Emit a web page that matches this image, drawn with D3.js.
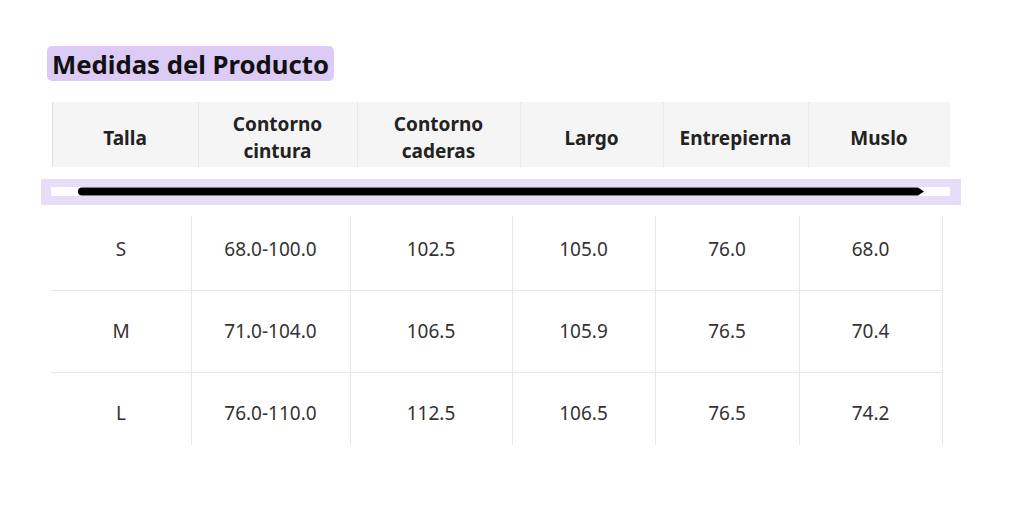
<!DOCTYPE html>
<html>
<head>
<meta charset="utf-8">
<script src="https://cdn.jsdelivr.net/npm/d3@7"></script>
<style>
  html, body { margin: 0; padding: 0; background: #fff; }
  svg { display: block; font-family: "Noto Sans", "Open Sans", sans-serif; }
</style>
</head>
<body>
<svg id="chart" width="1013" height="523"></svg>
<script>
const title = "Medidas del Producto";
const headers = [["Talla"], ["Contorno", "cintura"], ["Contorno", "caderas"], ["Largo"], ["Entrepierna"], ["Muslo"]];
const sizes = ["S", "M", "L"];
const cintura = ["68.0-100.0", "71.0-104.0", "76.0-110.0"];
const caderas = ["102.5", "106.5", "112.5"];
const largo = ["105.0", "105.9", "106.5"];
const entrepierna = ["76.0", "76.5", "76.5"];
const muslo = ["68.0", "70.4", "74.2"];

const svg = d3.select("#chart");

// column widths: header table and body table are separate, body slightly scrolled
const headWeights = [146, 159, 163, 143, 145, 142];
const bodyWeights = [140, 159, 162, 143, 144, 143];
const headEdges = [0].concat(Array.from(d3.cumsum(headWeights)));
const bodyEdges = [0].concat(Array.from(d3.cumsum(bodyWeights)));
const xHead = d3.scaleLinear().domain([0, d3.sum(headWeights)]).range([52, 950]);
const xBody = d3.scaleLinear().domain([0, d3.sum(bodyWeights)]).range([51, 942]);

// title badge
const tg = svg.append("g");
const tt = tg.append("text")
  .attr("x", 52).attr("y", 74)
  .style("font-size", "25.7px").style("font-weight", "bold").style("fill", "#111")
  .text(title);
const bb = tt.node().getBBox();
tg.insert("rect", "text")
  .attr("x", 47).attr("y", 46)
  .attr("width", bb.width + 10).attr("height", 35)
  .attr("rx", 5).attr("fill", "#dccbf5");

// header
const head = svg.append("g");
head.append("rect")
  .attr("x", xHead.range()[0]).attr("y", 102)
  .attr("width", xHead.range()[1] - xHead.range()[0]).attr("height", 65)
  .attr("fill", "#f5f5f5");
head.selectAll("line.sep")
  .data(headEdges.slice(0, -1))
  .join("line")
  .attr("class", "sep")
  .attr("x1", d => xHead(d) + 0.5).attr("x2", d => xHead(d) + 0.5)
  .attr("y1", 102).attr("y2", 167)
  .attr("stroke", d => d === 0 ? "#dddddd" : "#e8e8e8");
head.selectAll("text")
  .data(headers)
  .join("text")
  .attr("x", (d, i) => (xHead(headEdges[i]) + xHead(headEdges[i + 1])) / 2)
  .attr("y", d => d.length === 1 ? 145 : 131)
  .attr("text-anchor", "middle")
  .style("font-size", "19px").style("font-weight", "bold").style("fill", "#222")
  .selectAll("tspan")
  .data(d => d)
  .join("tspan")
  .attr("x", function () { return this.parentNode.getAttribute("x"); })
  .attr("dy", (d, i) => i === 0 ? 0 : 27)
  .text(d => d);

// scrollbar band
const sb = svg.append("g");
sb.append("rect").attr("x", 41).attr("y", 179).attr("width", 920).attr("height", 26).attr("fill", "#e6ddf8");
sb.append("rect").attr("x", 51).attr("y", 187).attr("width", 899).attr("height", 9).attr("fill", "#fff");
sb.append("path")
  .attr("d", "M82,187.5 L918,187.5 L924,191.5 L918,195.5 L82,195.5 A4,4 0 0 1 82,187.5 Z")
  .attr("fill", "#000");

// body (rows of equal height, visible area clipped)
const rowData = sizes.map((s, i) => [s, cintura[i], caderas[i], largo[i], entrepierna[i], muslo[i]]);
const y = d3.scaleBand().domain(sizes).range([208, 454]);
const clipTop = 216, clipBottom = 445;

const bodyG = svg.append("g");
bodyG.selectAll("line.h")
  .data(sizes.slice(1))
  .join("line")
  .attr("class", "h")
  .attr("x1", xBody.range()[0]).attr("x2", xBody.range()[1])
  .attr("y1", d => y(d) + 0.5).attr("y2", d => y(d) + 0.5)
  .attr("stroke", "#e8e8e8");
bodyG.selectAll("line.v")
  .data(bodyEdges.slice(1))
  .join("line")
  .attr("class", "v")
  .attr("x1", d => xBody(d) + 0.5).attr("x2", d => xBody(d) + 0.5)
  .attr("y1", clipTop).attr("y2", clipBottom)
  .attr("stroke", "#e8e8e8");

const rows = bodyG.selectAll("g.row")
  .data(rowData)
  .join("g")
  .attr("class", "row");
rows.selectAll("text")
  .data((d, r) => d.map((v, c) => ({ v, c, r })))
  .join("text")
  .attr("x", d => (xBody(bodyEdges[d.c]) + xBody(bodyEdges[d.c + 1])) / 2)
  .attr("y", d => y(sizes[d.r]) + y.bandwidth() / 2 + 7)
  .attr("text-anchor", "middle")
  .style("font-size", "19px").style("fill", "#333")
  .text(d => d.v);
</script>
</body>
</html>
